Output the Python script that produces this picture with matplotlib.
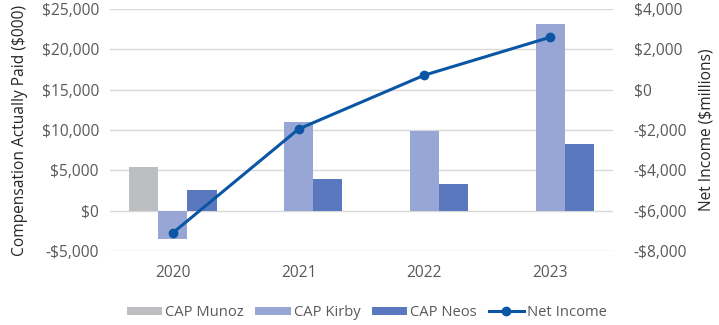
import matplotlib.pyplot as plt
import numpy as np
from matplotlib.ticker import FuncFormatter

plt.rcParams['font.family'] = ['Open Sans', 'DejaVu Sans']

# Data
years = ['2020', '2021', '2022', '2023']
cap_munoz = [5450, 0, 0, 0]
cap_kirby = [-3550, 11050, 9900, 23100]
cap_neos = [2550, 3950, 3350, 8300]
net_income = [-7100, -1950, 720, 2600]

def money(v, pos=None):
    v = int(round(v))
    return f'-${abs(v):,}' if v < 0 else f'${v:,}'

fs = 11.2
fig = plt.figure(figsize=(7.19, 3.25), dpi=100)
ax = fig.add_axes([110/719, 1 - 251/325, 503/719, 242/325])
ax2 = ax.twinx()

x = np.arange(len(years))
w = 0.232
ax.bar(x - w, cap_munoz, w, color='#BDBEC2', label='CAP Munoz', zorder=2)
ax.bar(x, cap_kirby, w, color='#97A6D4', label='CAP Kirby', zorder=2)
ax.bar(x + w, cap_neos, w, color='#5A78BD', label='CAP Neos', zorder=2)
ax2.plot(x, net_income, color='#0B56A4', lw=2.2, marker='o', ms=6, label='Net Income')

ax.set_xlim(-0.5, 3.5)
ax.set_ylim(-5000, 25000)
ax.set_yticks(range(-5000, 25001, 5000))
ax2.set_ylim(-8000, 4000)
ax2.set_yticks(range(-8000, 4001, 2000))
ax.yaxis.set_major_formatter(FuncFormatter(money))
ax2.yaxis.set_major_formatter(FuncFormatter(money))
ax.set_xticks(x)
ax.set_xticklabels(years)

ax.grid(axis='y', color='#D9D9D9', lw=1, zorder=0)
for a in (ax, ax2):
    for s in a.spines.values():
        s.set_visible(False)
    a.tick_params(length=0, labelsize=fs, colors='#595959')
ax.tick_params(axis='x', pad=10)
ax.tick_params(axis='y', pad=8)
ax2.tick_params(axis='y', pad=15)

ax.set_ylabel('Compensation Actually Paid ($000)', fontsize=fs, color='#262626', labelpad=10)
ax2.set_ylabel('Net Income ($millions)', fontsize=fs, color='#262626', labelpad=8)

h1, l1 = ax.get_legend_handles_labels()
h2, l2 = ax2.get_legend_handles_labels()
fig.legend(h1 + h2, l1 + l2, loc='center', bbox_to_anchor=(0.51, 0.038), ncol=4,
           frameon=False, fontsize=10.6, labelcolor='#595959', handlelength=2.4,
           handleheight=0.55, handletextpad=0.2, columnspacing=0.8)

fig.savefig('out.png', dpi=100)
